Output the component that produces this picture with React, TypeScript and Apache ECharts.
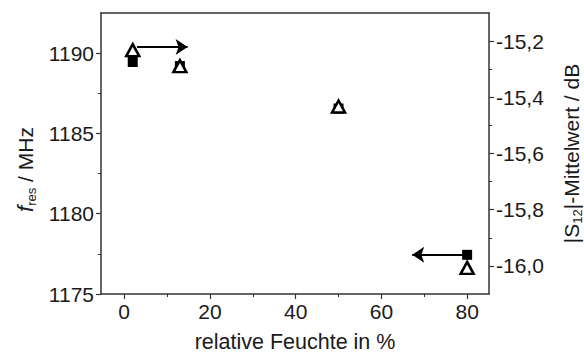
import React, { useEffect, useRef } from "react";
import * as echarts from "echarts";

const humidity = [2, 13, 50, 80];
const freqMHz = [1189.45, 1189.2, 1186.55, 1177.44];
const s12dB = [-15.232, -15.289, -15.433, -16.007];
const xTicks = [0, 20, 40, 60, 80];
const xMinor = [10, 30, 50, 70];
const leftTicks = [1175, 1180, 1185, 1190];
const leftMinor = [1177.5, 1182.5, 1187.5];
const rightTicks = [-16.0, -15.8, -15.6, -15.4, -15.2];
const rightMinor = [-15.9, -15.7, -15.5, -15.3];
const arrowTop = [[3.0, -15.221], [14.8, -15.221]];
const arrowBottom = [[79.5, 1177.44], [67.2, 1177.44]];

const FONT = "'Liberation Sans', Arial, sans-serif";
const AX = "#333";
const TXT = "#1a1a1a";
const FS = 21;
const X_MIN = -5.4;
const X_MAX = 85.1;

export default function App() {
  const ref = useRef<HTMLDivElement>(null);
  useEffect(() => {
    const chart = echarts.init(ref.current!, null, { renderer: "svg" });
    const labelStyle = { color: TXT, fontSize: FS, fontFamily: FONT };
    const minorAxis = (customValues: number[], extra: any) => ({
      type: "value",
      axisLine: { show: false, onZero: false },
      axisTick: { show: true, length: 3, customValues, lineStyle: { color: AX, width: 1 } },
      axisLabel: { show: false },
      splitLine: { show: false },
      ...extra,
    });
    chart.setOption({
      animation: false,
      backgroundColor: "#fff",
      grid: { left: 101, right: 95, top: 13, bottom: 62, containLabel: false, outerBoundsMode: "none" },
      xAxis: [
        {
          type: "value",
          min: X_MIN,
          max: X_MAX,
          position: "bottom",
          name: "relative Feuchte in %",
          nameLocation: "middle",
          nameGap: 37,
          nameTextStyle: { color: TXT, fontSize: 21.5, fontFamily: FONT },
          axisLine: { show: true, onZero: false, lineStyle: { color: AX, width: 1.5 } },
          axisTick: { show: true, length: 5, customValues: xTicks, lineStyle: { color: AX, width: 1.2 } },
          axisLabel: { ...labelStyle, margin: 7, customValues: xTicks },
          splitLine: { show: false },
        },
        {
          type: "value",
          min: X_MIN,
          max: X_MAX,
          position: "top",
          axisLine: { show: true, onZero: false, lineStyle: { color: AX, width: 1.5 } },
          axisTick: { show: false },
          axisLabel: { show: false },
          splitLine: { show: false },
        },
        minorAxis(xMinor, { min: X_MIN, max: X_MAX, position: "bottom", offset: 0 }),
      ],
      yAxis: [
        {
          type: "value",
          min: 1175,
          max: 1192.5,
          position: "left",
          name: "{i|f}{sub|res}{n| / MHz}",
          nameLocation: "middle",
          nameRotate: 90,
          nameGap: 63,
          nameTextStyle: {
            padding: [0, 32, 0, 0],
            rich: {
              i: { fontStyle: "italic", fontSize: 22, fontFamily: FONT, color: TXT },
              sub: { fontSize: 13, fontFamily: FONT, color: TXT, padding: [12, 0, 0, 0] },
              n: { fontSize: FS, fontFamily: FONT, color: TXT },
            },
          },
          axisLine: { show: true, onZero: false, lineStyle: { color: AX, width: 1.5 } },
          axisTick: { show: true, length: 5, customValues: leftTicks, lineStyle: { color: AX, width: 1.2 } },
          axisLabel: {
            ...labelStyle,
            margin: 7,
            customValues: leftTicks,
            formatter: (v: number) => String(Math.round(v)),
          },
          splitLine: { show: false },
        },
        {
          type: "value",
          min: -16.1,
          max: -15.1,
          position: "right",
          name: "|S{sub|12}|-Mittelwert / dB",
          nameLocation: "middle",
          nameRotate: 90,
          nameGap: 70,
          nameTextStyle: {
            color: TXT,
            fontSize: FS,
            fontFamily: FONT,
            rich: {
              sub: { fontSize: 13, fontFamily: FONT, color: TXT, padding: [12, 0, 0, 0] },
            },
          },
          axisLine: { show: true, onZero: false, lineStyle: { color: AX, width: 1.5 } },
          axisTick: { show: true, length: 5, customValues: rightTicks, lineStyle: { color: AX, width: 1.2 } },
          axisLabel: {
            ...labelStyle,
            margin: 7,
            customValues: rightTicks,
            formatter: (v: number) => v.toFixed(1).replace(".", ","),
          },
          splitLine: { show: false },
        },
        minorAxis(rightMinor, { min: -16.1, max: -15.1, position: "right", offset: 0 }),
        minorAxis(leftMinor, { min: 1175, max: 1192.5, position: "left", offset: 0 }),
      ],
      series: [
        {
          type: "scatter",
          xAxisIndex: 0,
          yAxisIndex: 0,
          symbol: "rect",
          symbolSize: 10,
          itemStyle: { color: "#000", opacity: 1 },
          z: 2,
          data: humidity.map((h, i) => [h, freqMHz[i]]),
          markLine: {
            silent: true,
            symbol: ["none", "arrow"],
            symbolSize: 12,
            label: { show: false },
            lineStyle: { color: "#000", width: 2, type: "solid", opacity: 1 },
            data: [[{ coord: arrowBottom[0] }, { coord: arrowBottom[1] }]],
          },
        },
        {
          type: "scatter",
          xAxisIndex: 0,
          yAxisIndex: 1,
          symbol: "triangle",
          symbolSize: [13, 12],
          itemStyle: { color: "#fff", borderColor: "#000", borderWidth: 2.5, opacity: 1 },
          z: 3,
          data: humidity.map((h, i) => [h, s12dB[i]]),
          markLine: {
            silent: true,
            symbol: ["none", "arrow"],
            symbolSize: 12,
            label: { show: false },
            lineStyle: { color: "#000", width: 2, type: "solid", opacity: 1 },
            data: [[{ coord: arrowTop[0] }, { coord: arrowTop[1] }]],
          },
        },
      ],
    });
    return () => chart.dispose();
  }, []);
  return (
    <div
      ref={ref}
      style={{ position: "fixed", left: 0, top: 0, width: 584, height: 356, background: "#fff" }}
    />
  );
}
